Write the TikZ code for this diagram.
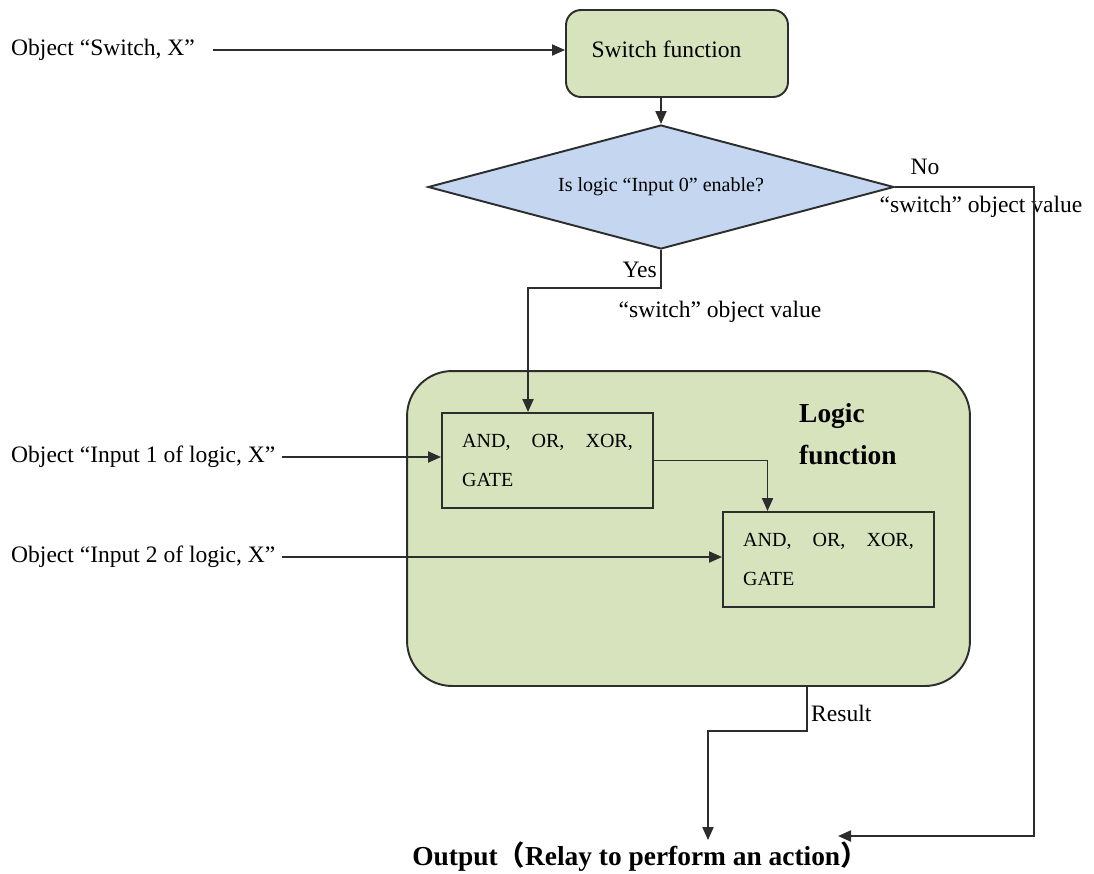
\documentclass[tikz,border=0pt]{standalone}
\usepackage{fontspec}
\setmainfont{Liberation Serif}
\newfontfamily\cjk{Noto Sans CJK SC}
\usetikzlibrary{shapes.geometric,arrows.meta}
\definecolor{boxgreen}{RGB}{214,227,188}
\definecolor{diablue}{RGB}{196,214,240}
\definecolor{linegray}{RGB}{45,45,45}
\tikzset{
  line/.style={line width=1.1pt, draw=linegray},
  gate/.style={draw=linegray, line width=1.1pt, minimum width=4.22cm, minimum height=1.9cm, align=left, font=\fontsize{11.4}{22}\selectfont},
  txt/.style={font=\fontsize{13.4}{16}\selectfont}
}
\begin{document}
\begin{tikzpicture}[x=0.02cm, y=-0.02cm, >={Triangle[length=0.26cm,width=0.22cm]}]
      \useasboundingbox (0,0) rectangle (1094,873);

      \node[rounded corners=0.3cm, draw=linegray, line width=1.1pt, fill=boxgreen, minimum width=4.44cm, minimum height=1.74cm, txt] (sw) at (677,53.5) {\raisebox{5pt}{Switch function}\kern12pt};
      \node[diamond, aspect=3.76, draw=linegray, line width=1.1pt, fill=diablue, minimum width=9.32cm, minimum height=2.48cm, inner sep=0pt, font=\fontsize{11.4}{13}\selectfont] (dia) at (661,187) {Is logic “Input 0” enable?};
      \node[rounded corners=0.9cm, draw=linegray, line width=1.1pt, fill=boxgreen, minimum width=11.26cm, minimum height=6.3cm] (lf) at (688.5,528.5) {};
      \node[anchor=west, align=left, font=\bfseries\fontsize{15.6}{24}\selectfont] (lftxt) at (793,434) {Logic\\function};

      \node[gate] (g1) at (547.5,460.5) {AND,\hspace{12pt}OR,\hspace{12pt}XOR,\\GATE};
      \node[gate] (g2) at (828.5,559.5) {AND,\hspace{12pt}OR,\hspace{12pt}XOR,\\GATE};

      \node[anchor=west, txt] (insw) at (5,50) {Object “Switch, X”};
      \node[anchor=west, txt] (in1) at (5,457) {Object “Input 1 of logic, X”};
      \node[anchor=west, txt] (in2) at (5,557) {Object “Input 2 of logic, X”};
      \node[inner sep=1pt, font=\bfseries\fontsize{15.6}{18}\selectfont] (out) at (640,857) {Output{\cjk（}Relay to perform an action{\cjk）}};

      \node[txt] (no) at (925,167) {No};
      \node[txt] (noval) at (981,207) {“switch” object value};
      \node[anchor=east, txt] (yes) at (663,270) {Yes};
      \node[txt] (yesval) at (720,312) {“switch” object value};
      \node[anchor=west, txt] (res) at (805,713) {Result};
      \coordinate (noin) at (838,836);

      \draw[line,->] ([xshift=0.24cm]insw.east) -- (insw.east -| sw.west);
      \draw[line,->] (sw.south -| dia.north) -- (dia.north);
      \draw[line,->] (dia.south) -- ++(0,38) -| ([xshift=-0.39cm]g1.north);
      \draw[line,->] (dia.east) -- ++(139,0) |- (noin);
      \draw[line,->] (in1.east) -- (in1.east -| g1.west);
      \draw[line,->] (in2.east) -- (in2.east -| g2.west);
      \draw[line,->] (g1.east) -| ([xshift=-1.22cm]g2.north);
      \draw[line,->] ([xshift=2.37cm]lf.south) -- ++(0,44) -| ([xshift=1.36cm]out.north);
    \end{tikzpicture}
\end{document}
